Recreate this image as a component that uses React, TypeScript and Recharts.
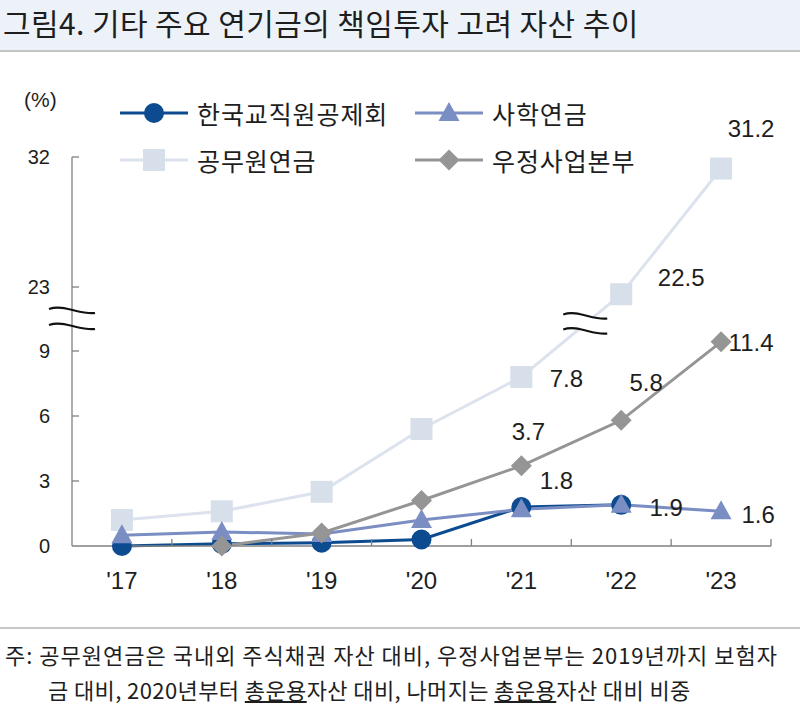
import React from 'react';
import { LineChart, Line, XAxis, YAxis, ReferenceDot } from 'recharts';

// ---------- data ----------
const YEARS = ["'17", "'18", "'19", "'20", "'21", "'22", "'23"];
const KTCU: (number | null)[] = [0.0, 0.1, 0.15, 0.3, 1.8, 1.9, null]; // 한국교직원공제회
const TP: (number | null)[] = [0.5, 0.65, 0.55, 1.2, 1.7, 1.9, 1.6]; // 사학연금
const GEPS: (number | null)[] = [1.2, 1.6, 2.5, 5.4, 7.8, 22.5, 31.2]; // 공무원연금
const POST: (number | null)[] = [null, 0.0, 0.6, 2.1, 3.7, 5.8, 11.4]; // 우정사업본부
const Y_TICK_LABELS = [0, 3, 6, 9, 23, 32];

const SERIES_NAMES = {
  ktcu: '한국교직원공제회',
  tp: '사학연금',
  geps: '공무원연금',
  post: '우정사업본부',
};

// ---------- broken axis transform ----------
const BREAK_LOW = 9;
const BREAK_HIGH = 23;
const BREAK_GAP = 2.953;
const UPPER_K = 2 / 3;
const MID_START = 22;
const toAxis = (v: number | null): number | null => {
  if (v == null) return null;
  if (v <= BREAK_LOW) return v;
  const tHigh = BREAK_LOW + BREAK_GAP;
  if (v >= MID_START) return tHigh + (v - BREAK_HIGH) * UPPER_K;
  const tMid = tHigh + (MID_START - BREAK_HIGH) * UPPER_K;
  return BREAK_LOW + ((v - BREAK_LOW) / (MID_START - BREAK_LOW)) * (tMid - BREAK_LOW);
};
const Y_TOP = toAxis(32) as number;
const Y_TICKS = Y_TICK_LABELS.map((v) => toAxis(v) as number);
const Y_BREAK_MID = (BREAK_LOW + (BREAK_LOW + BREAK_GAP)) / 2;

const rows = YEARS.map((year, i) => ({
  idx: i,
  year,
  ktcu: toAxis(KTCU[i]),
  tp: toAxis(TP[i]),
  geps: toAxis(GEPS[i]),
  post: toAxis(POST[i]),
}));

// line-break position on 공무원연금 between '21 and '22
const LINE_BREAK_X = 4.64;
const LINE_BREAK_Y =
  (rows[4].geps as number) + ((rows[5].geps as number) - (rows[4].geps as number)) * (LINE_BREAK_X - 4);

// ---------- styles ----------
const CJK = "'Noto Sans CJK KR', 'Noto Sans CJK SC', sans-serif";
const NARROW = "'Liberation Sans Narrow', 'Arial Narrow', 'Liberation Sans', Arial, sans-serif";
const SANS = "'Liberation Sans', Arial, sans-serif";
const TEXT = '#1e1e1e';
const AXIS = '#808080';

const COLORS = {
  ktcu: '#0d4b90',
  tp: '#7b8ec3',
  geps: '#d6dfea',
  gepsLine: '#dce3ee',
  post: '#959595',
};

const LABEL_OFFSETS: Record<string, Record<number, [number, number]>> = {
  geps: { 4: [45, 2], 5: [60, -17], 6: [30, -40] },
  post: { 4: [7, -34], 5: [25, -38], 6: [30, 1] },
  ktcu: { 4: [35, -26], 5: [45, 3] },
  tp: { 6: [37, 3] },
};

type Shape = 'circle' | 'triangle' | 'square' | 'diamond';

const Marker = ({ shape, cx, cy, color }: { shape: Shape; cx: number; cy: number; color: string }) => {
  if (shape === 'circle') return <circle cx={cx} cy={cy} r={10} fill={color} />;
  if (shape === 'triangle')
    return <polygon points={`${cx},${cy - 11} ${cx + 10.5},${cy + 8} ${cx - 10.5},${cy + 8}`} fill={color} />;
  if (shape === 'square') return <rect x={cx - 11} y={cy - 11} width={22} height={22} fill={color} />;
  return <polygon points={`${cx},${cy - 10.5} ${cx + 10.5},${cy} ${cx},${cy + 10.5} ${cx - 10.5},${cy}`} fill={color} />;
};

const makeDot = (key: string, shape: Shape, color: string, values: (number | null)[]) => (props: any) => {
  const { cx, cy, index } = props;
  if (cx == null || cy == null || values[index] == null || isNaN(cy)) return <g key={`${key}-${index}`} />;
  const off = LABEL_OFFSETS[key] && LABEL_OFFSETS[key][index];
  return (
    <g key={`${key}-${index}`}>
      <Marker shape={shape} cx={cx} cy={cy} color={color} />
      {off && (
        <text
          x={cx + off[0]}
          y={cy + off[1]}
          textAnchor="middle"
          dominantBaseline="central"
          fontFamily={NARROW}
          fontSize={24}
          fill={TEXT}
        >
          {(values[index] as number).toFixed(1)}
        </text>
      )}
    </g>
  );
};

const XTick = (props: any) => {
  const { x, y, payload } = props;
  const v = payload.value as number;
  if (Number.isInteger(v)) {
    return (
      <text x={x} y={y + 34} textAnchor="middle" dominantBaseline="central" fontFamily={NARROW} fontSize={24} fill={TEXT}>
        {YEARS[v]}
      </text>
    );
  }
  return <line x1={x} x2={x} y1={y} y2={y - 7} stroke={AXIS} strokeWidth={1.3} />;
};

const YTick = (props: any) => {
  const { x, y, index } = props;
  return (
    <g>
      {index > 0 && <line x1={x} x2={x + 7} y1={y} y2={y} stroke={AXIS} strokeWidth={1.3} />}
      <text x={x - 22} y={y} textAnchor="end" dominantBaseline="central" fontFamily={SANS} fontSize={20} fill={TEXT}>
        {Y_TICK_LABELS[index]}
      </text>
    </g>
  );
};

const BreakMark = ({ cx, cy, half, gap, fillGap }: { cx: number; cy: number; half: number; gap: number; fillGap: boolean }) => {
  const wave = (dy: number) =>
    `M${cx - half},${cy + dy - 2} C${cx - half * 0.35},${cy + dy - 7} ${cx + half * 0.35},${cy + dy + 4} ${cx + half},${cy + dy + 2}`;
  const top = -gap / 2;
  const bot = gap / 2;
  return (
    <g>
      {fillGap && (
        <path
          d={`${wave(top)} L${cx + half},${cy + bot + 2} C${cx + half * 0.35},${cy + bot + 4} ${cx - half * 0.35},${cy + bot - 7} ${cx - half},${cy + bot - 2} Z`}
          fill="#ffffff"
          stroke="none"
        />
      )}
      <path d={wave(top)} fill="none" stroke="#111" strokeWidth={2.2} />
      <path d={wave(bot)} fill="none" stroke="#111" strokeWidth={2.2} />
    </g>
  );
};

const LegendItem = ({ left, top, shape, color, lineColor, label }: any) => (
  <div style={{ position: 'absolute', left, top, height: 30, display: 'flex', alignItems: 'center' }}>
    <svg width={70} height={30} style={{ display: 'block' }}>
      <line x1={0} x2={68} y1={15} y2={15} stroke={lineColor} strokeWidth={3} />
      <Marker shape={shape} cx={34} cy={15} color={color} />
    </svg>
    <span style={{ marginLeft: 7, fontFamily: CJK, fontSize: 25, letterSpacing: 0.9, color: TEXT, whiteSpace: 'nowrap', lineHeight: '30px' }}>
      {label}
    </span>
  </div>
);

export default function App() {
  return (
    <div style={{ position: 'absolute', left: 0, top: 0, width: 800, height: 710, background: '#fff', overflow: 'hidden' }}>
      {/* title */}
      <div
        style={{
          position: 'absolute',
          left: 0,
          top: 0,
          width: 800,
          height: 50,
          background: '#edf2f9',
          borderBottom: '2px solid #c4c4c4',
        }}
      />
      <div
        style={{
          position: 'absolute',
          left: 3,
          top: 2,
          fontFamily: CJK,
          fontSize: 30,
          letterSpacing: 0.4,
          lineHeight: '40px',
          color: TEXT,
          whiteSpace: 'nowrap',
        }}
      >
        그림4. 기타 주요 연기금의 책임투자 고려 자산 추이
      </div>

      {/* chart */}
      <div style={{ position: 'absolute', left: 0, top: 0 }}>
        <LineChart width={800} height={620} data={rows} margin={{ top: 157, right: 29, bottom: 34, left: 0 }}>
          <XAxis
            dataKey="idx"
            type="number"
            domain={[-0.5, 6.5]}
            ticks={[0, 0.5, 1, 1.5, 2, 2.5, 3, 3.5, 4, 4.5, 5, 5.5, 6, 6.5]}
            interval={0}
            allowDecimals
            tick={<XTick />}
            tickLine={false}
            tickSize={0}
            tickMargin={0}
            height={40}
            axisLine={{ stroke: AXIS, strokeWidth: 1.3 }}
          />
          <YAxis
            type="number"
            domain={[0, Y_TOP]}
            ticks={Y_TICKS}
            interval={0}
            tick={<YTick />}
            tickLine={false}
            tickSize={0}
            tickMargin={0}
            width={72}
            axisLine={{ stroke: AXIS, strokeWidth: 1.3 }}
          />
          <Line
            dataKey="geps"
            name={SERIES_NAMES.geps}
            stroke={COLORS.gepsLine}
            strokeWidth={3}
            dot={makeDot('geps', 'square', COLORS.geps, GEPS)}
            activeDot={false}
            isAnimationActive={false}
          />
          <Line
            dataKey="ktcu"
            name={SERIES_NAMES.ktcu}
            stroke={COLORS.ktcu}
            strokeWidth={3}
            dot={makeDot('ktcu', 'circle', COLORS.ktcu, KTCU)}
            activeDot={false}
            isAnimationActive={false}
          />
          <Line
            dataKey="tp"
            name={SERIES_NAMES.tp}
            stroke={COLORS.tp}
            strokeWidth={3}
            dot={makeDot('tp', 'triangle', COLORS.tp, TP)}
            activeDot={false}
            isAnimationActive={false}
          />
          <Line
            dataKey="post"
            name={SERIES_NAMES.post}
            stroke={COLORS.post}
            strokeWidth={3}
            dot={makeDot('post', 'diamond', COLORS.post, POST)}
            activeDot={false}
            isAnimationActive={false}
          />
          <ReferenceDot
            x={-0.5}
            y={Y_BREAK_MID}
            ifOverflow="visible"
            shape={(p: any) => <BreakMark cx={p.cx} cy={p.cy} half={23} gap={16} fillGap={false} />}
          />
          <ReferenceDot
            x={LINE_BREAK_X}
            y={LINE_BREAK_Y}
            ifOverflow="visible"
            shape={(p: any) => <BreakMark cx={p.cx} cy={p.cy} half={22} gap={15} fillGap={true} />}
          />
        </LineChart>
      </div>

      {/* unit */}
      <div style={{ position: 'absolute', left: 24, top: 86, fontFamily: SANS, fontSize: 21, color: TEXT, lineHeight: '28px' }}>
        (%)
      </div>

      {/* legend */}
      <LegendItem left={120} top={98} shape="circle" color={COLORS.ktcu} lineColor={COLORS.ktcu} label={SERIES_NAMES.ktcu} />
      <LegendItem left={415} top={98} shape="triangle" color={COLORS.tp} lineColor={COLORS.tp} label={SERIES_NAMES.tp} />
      <LegendItem left={120} top={145} shape="square" color={COLORS.geps} lineColor={COLORS.gepsLine} label={SERIES_NAMES.geps} />
      <LegendItem left={415} top={145} shape="diamond" color={COLORS.post} lineColor={COLORS.post} label={SERIES_NAMES.post} />

      {/* footer */}
      <div style={{ position: 'absolute', left: 0, top: 627, width: 800, height: 0, borderTop: '2px solid #c8c8c8' }} />
      <div
        style={{
          position: 'absolute',
          left: 5,
          top: 637,
          fontFamily: CJK,
          fontSize: 22,
          letterSpacing: 1,
          lineHeight: '35px',
          color: TEXT,
          whiteSpace: 'nowrap',
        }}
      >
        <div>주: 공무원연금은 국내외 주식채권 자산 대비, 우정사업본부는 2019년까지 보험자</div>
        <div style={{ paddingLeft: 43, letterSpacing: 0.4 }}>
          금 대비, 2020년부터 <span style={{ textDecoration: 'underline' }}>총운용</span>자산 대비, 나머지는{' '}
          <span style={{ textDecoration: 'underline' }}>총운용</span>자산 대비 비중
        </div>
      </div>
    </div>
  );
}
